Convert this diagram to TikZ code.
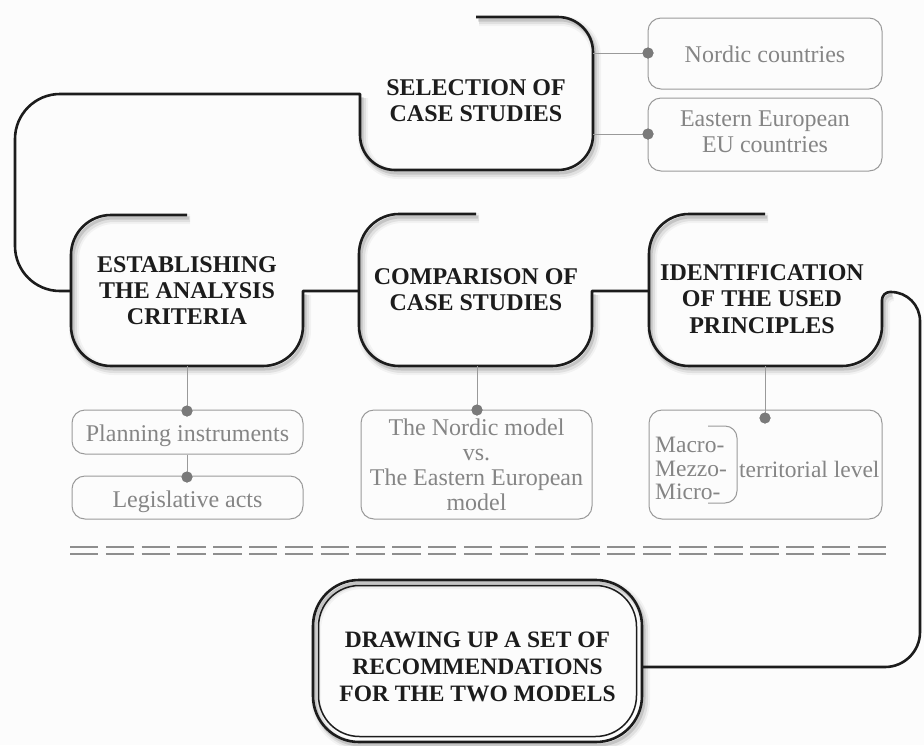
\documentclass[tikz,border=0pt]{standalone}
\usepackage{fontspec}
\setmainfont{Liberation Serif}
\definecolor{bgc}{HTML}{FCFCFC}
\definecolor{mainc}{HTML}{1C1C1C}
\definecolor{subc}{HTML}{9A9A9A}
\definecolor{subtc}{HTML}{858585}
\definecolor{dotc}{HTML}{7A7A7A}
\definecolor{dashc}{HTML}{8E8E8E}
\newcommand\SelBox{(476,17) -- (558,17) arc[start angle=-90,end angle=0,radius=35] -- (593,135) arc[start angle=0,end angle=90,radius=35] -- (395,170) arc[start angle=90,end angle=180,radius=35] -- (360,94)}
\newcommand\EstBox{(187,215) -- (111,215) arc[start angle=270,end angle=180,radius=40] -- (71,326) arc[start angle=180,end angle=90,radius=40] -- (263,366) arc[start angle=90,end angle=0,radius=40] -- (303,291)}
\newcommand\CmpBox{(476,214) -- (399,214) arc[start angle=270,end angle=180,radius=40] -- (359,326) arc[start angle=180,end angle=90,radius=40] -- (552,366) arc[start angle=90,end angle=0,radius=40] -- (592,291)}
\newcommand\IdfBox{(765,214) -- (689,214) arc[start angle=270,end angle=180,radius=40] -- (649,326) arc[start angle=180,end angle=90,radius=40] -- (842,366) arc[start angle=90,end angle=0,radius=40] -- (882,300) arc[start angle=180,end angle=270,radius=8]}
\newcommand\shadowit[1]{%
  \draw[shA,shift={(3,4)}] #1;
  \draw[shB,shift={(3,4)}] #1;
  \draw[shC,shift={(2,3)}] #1;}
\begin{document}
\begin{tikzpicture}[x=1pt,y=-1pt,
  mainline/.style={line width=2.6pt, draw=mainc, line join=round},
  shA/.style={line width=10pt, draw=black, opacity=0.04, line join=round},
  shB/.style={line width=6pt, draw=black, opacity=0.07, line join=round},
  shC/.style={line width=3pt, draw=black, opacity=0.12, line join=round},
  mainlabel/.style={font=\bfseries\fontsize{24}{26}\selectfont, align=center, text=mainc, inner sep=0pt},
  subbox/.style={draw=subc, line width=1pt, rounded corners=13pt, inner sep=0pt},
  subtext/.style={font=\fontsize{24}{25}\selectfont, text=subtc, align=center, inner sep=0pt},
  dotnode/.style={circle, fill=dotc, inner sep=0pt, minimum size=11pt},
  subline/.style={draw=subc, line width=1pt},
  dashline/.style={draw=dashc, line width=2.2pt, dash pattern=on 28.3pt off 7.5pt},
]
\fill[bgc] (0,0) rectangle (924,745);
\useasboundingbox (0,0) rectangle (924,745);

% shadows of main boxes
\shadowit{\SelBox}
\shadowit{\EstBox}
\shadowit{\CmpBox}
\shadowit{\IdfBox}
\draw[shA,shift={(3,4)},rounded corners=46pt] (313,580) rectangle (642,742);
\draw[shB,shift={(3,4)},rounded corners=46pt] (313,580) rectangle (642,742);
\draw[shC,shift={(2,3)},rounded corners=46pt] (313,580) rectangle (642,742);

% main box outlines with connectors
\coordinate (estjoin) at (71,291);
\coordinate (cmpjoin) at (359,291);
\coordinate (idfjoin) at (649,291);
\coordinate (recjoin) at (642,667);
\draw[mainline] \SelBox -- (60,94) arc[start angle=270,end angle=180,radius=45] -- (15,246) arc[start angle=180,end angle=90,radius=45] -- (estjoin);
\draw[mainline] \EstBox -- (cmpjoin);
\draw[mainline] \CmpBox -- (idfjoin);
\draw[mainline] \IdfBox -- (891,292) arc[start angle=-90,end angle=0,radius=29] -- (920,632) arc[start angle=0,end angle=90,radius=35] -- (recjoin);

% main labels
\node[mainlabel] (sel) at (476,100.5) {SELECTION OF\\CASE STUDIES};
\node[mainlabel] (est) at (187,290.5) {ESTABLISHING\\THE ANALYSIS\\CRITERIA};
\node[mainlabel] (cmp) at (476,290) {COMPARISON OF\\CASE STUDIES};
\node[mainlabel, font=\bfseries\fontsize{24}{26.5}\selectfont] (idf) at (762,299) {IDENTIFICATION\\OF THE USED\\PRINCIPLES};

% bottom box
\draw[line width=2.6pt, draw=mainc, rounded corners=46pt] (313,580) rectangle (642,742);
\draw[line width=1.5pt, draw=mainc, rounded corners=41pt] (318.5,585.5) rectangle (636.5,736.5);
\node[mainlabel, font=\bfseries\fontsize{23.5}{27}\selectfont] (rec) at (477.5,667) {DRAWING UP A SET OF\\RECOMMENDATIONS\\FOR THE TWO MODELS};

% sub boxes
\node[subbox, minimum width=234pt, minimum height=71pt] (nordic) at (765,53.5) {};
\node[subbox, minimum width=234pt, minimum height=73pt] (eastern) at (765,134.5) {};
\node[subbox, minimum width=231pt, minimum height=44pt] (plan) at (187.5,432) {};
\node[subbox, minimum width=231pt, minimum height=43pt] (legis) at (187.5,497.5) {};
\node[subbox, minimum width=231pt, minimum height=109pt] (nvse) at (476.5,464.5) {};
\node[subbox, minimum width=233pt, minimum height=109pt] (terr) at (765.5,464.5) {};

\node[subtext, anchor=base] (nordict) at (765,62) {Nordic countries};
\node[subtext, font=\fontsize{24}{26}\selectfont] (easternt) at (765,132) {Eastern European\\EU countries};
\node[subtext, anchor=base] (plant) at (187.5,441) {Planning instruments};
\node[subtext, anchor=base] (legist) at (187.5,507) {Legislative acts};
\node[subtext] (nvset) at (476.5,465) {The Nordic model\\vs.\\The Eastern European\\model};
\node[subtext, font=\fontsize{23.5}{23.5}\selectfont, align=left, anchor=west] (mmm) at (655,468.5) {Macro-\\Mezzo-\\Micro-};
\node[subtext, font=\fontsize{23.5}{23.5}\selectfont, anchor=base west] (terrt) at (739,477) {territorial level};
\draw[subline] (708,426) -- (725,426) arc[start angle=-90,end angle=0,radius=12] -- (737,491) arc[start angle=0,end angle=90,radius=12] -- (708,503);

% dots and gray connectors
\node[dotnode] (d1) at (648,53) {};
\node[dotnode] (d2) at (648,134) {};
\node[dotnode] (d3) at (187,411) {};
\node[dotnode] (d4) at (187,477) {};
\node[dotnode] (d5) at (477,410) {};
\node[dotnode] (d6) at (765,418) {};
\coordinate (s1) at (593,53);
\coordinate (s2) at (593,134);
\coordinate (e1) at (187,366);
\coordinate (c1) at (477,366);
\coordinate (i1) at (765,366);
\draw[subline] (s1) -- (d1.center);
\draw[subline] (s2) -- (d2.center);
\draw[subline] (e1) -- (d3.center);
\draw[subline] (plan.south -| d4) -- (d4.center);
\draw[subline] (c1) -- (d5.center);
\draw[subline] (i1) -- (d6.center);
\node[dotnode] at (d1) {};
\node[dotnode] at (d2) {};
\node[dotnode] at (d3) {};
\node[dotnode] at (d4) {};
\node[dotnode] at (d5) {};
\node[dotnode] at (d6) {};

% double dashed separator
\coordinate (dl) at (70,547);
\coordinate (dr) at (886,547);
\coordinate (dl2) at (70,554);
\coordinate (dr2) at (886,554);
\draw[dashline] (dl) -- (dr);
\draw[dashline] (dl2) -- (dr2);
\end{tikzpicture}
\end{document}
